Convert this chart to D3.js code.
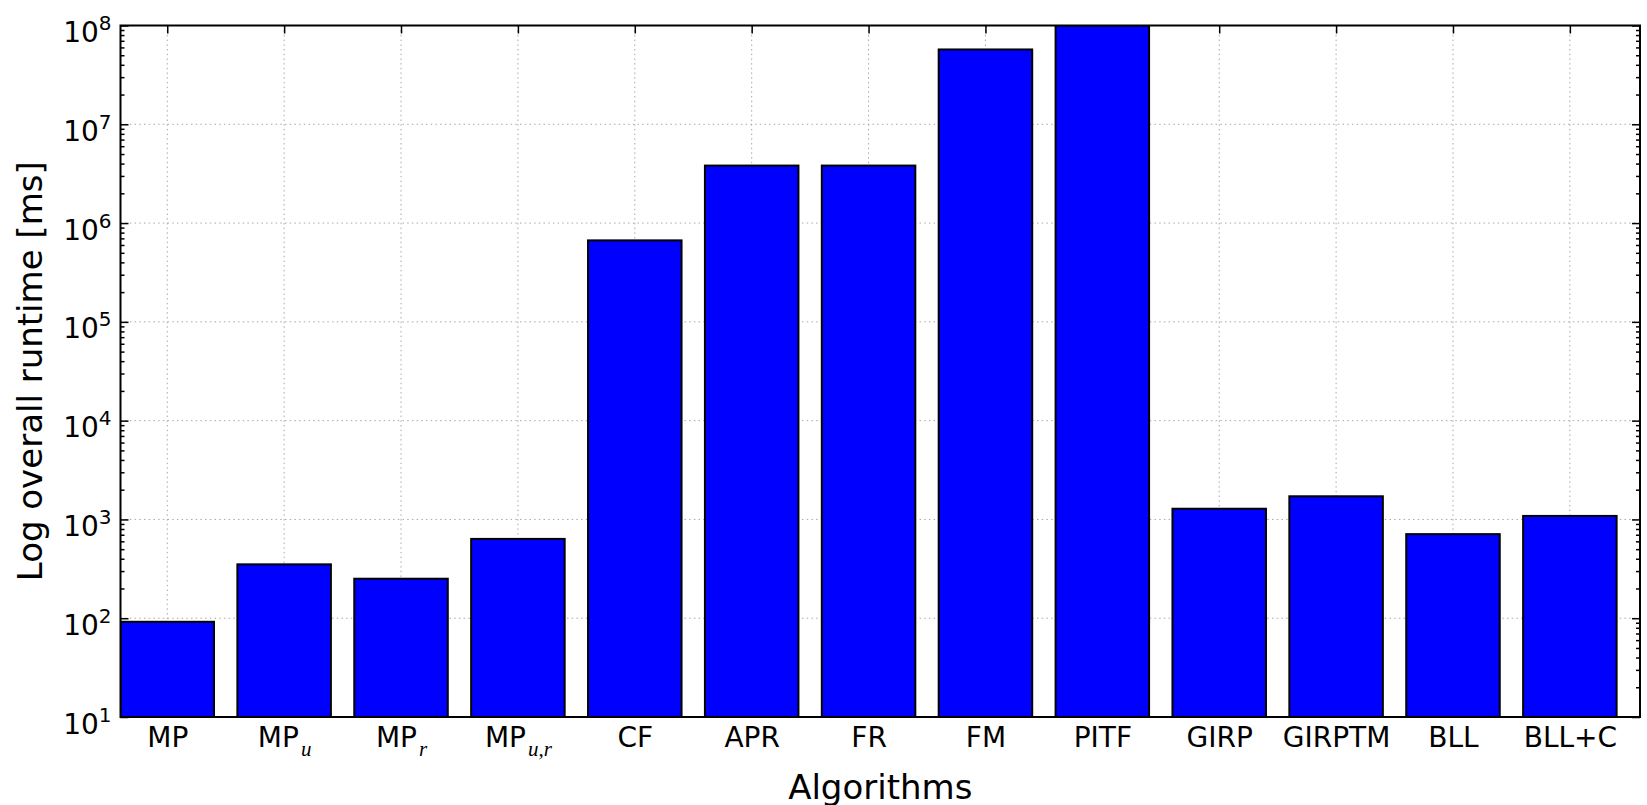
<!DOCTYPE html>
<html>
<head>
<meta charset="utf-8">
<script src="https://cdn.jsdelivr.net/npm/d3@7"></script>
<style>
  html, body { margin: 0; padding: 0; background: #ffffff; }
  svg { display: block; }
  text { font-family: "DejaVu Sans", sans-serif; fill: #000; }
</style>
</head>
<body>
<script>
// Algorithm names (main text and math-italic subscript)
const labelBase = ["MP", "MP", "MP", "MP", "CF", "APR", "FR", "FM", "PITF", "GIRP", "GIRPTM", "BLL", "BLL+C"];
const labelSub  = ["",   "u",  "r",  "u,r", "",  "",    "",   "",   "",     "",     "",       "",    ""];
// Overall runtime per algorithm in milliseconds
const runtimeMs = [92, 351, 251, 635, 668000, 3820000, 3820000, 57200000, 100000000, 1283, 1715, 710, 1085];
// Decade exponents shown on the y axis
const yExponents = [1, 2, 3, 4, 5, 6, 7, 8];

const W = 1647, H = 805;
const plot = { left: 120.5, right: 1640, top: 25.5, bottom: 717 };
const barWidth = 0.8;

const svg = d3.select("body").append("svg").attr("width", W).attr("height", H);

const x = d3.scaleLinear().domain([0, 13]).range([plot.left, plot.right]);
const y = d3.scaleLog().domain([1e1, 1e8]).range([plot.bottom, plot.top]);

const centers = labelBase.map((_, i) => i + barWidth / 2);
const majors = yExponents.map(e => Math.pow(10, e));
const minors = [];
yExponents.slice(0, -1).forEach(e => {
  for (let m = 2; m <= 9; m++) minors.push(m * Math.pow(10, e));
});

// clip for the plotting area
svg.append("defs").append("clipPath").attr("id", "plot-clip")
  .append("rect")
  .attr("x", plot.left).attr("y", plot.top)
  .attr("width", plot.right - plot.left).attr("height", plot.bottom - plot.top);

// dotted grid
const grid = svg.append("g").attr("stroke", "#a8a8a8").attr("stroke-width", 1)
  .attr("stroke-dasharray", "1.5,3.2");
grid.selectAll("line.gx").data(centers).join("line").attr("class", "gx")
  .attr("x1", d => x(d)).attr("x2", d => x(d))
  .attr("y1", plot.top).attr("y2", plot.bottom);
grid.selectAll("line.gy").data(majors.slice(1, -1)).join("line").attr("class", "gy")
  .attr("y1", d => y(d)).attr("y2", d => y(d))
  .attr("x1", plot.left).attr("x2", plot.right);

// tick marks (inward) on all four sides
function styleAxis(g) {
  g.select(".domain").remove();
  g.selectAll(".tick line").attr("stroke", "#000").attr("stroke-width", 1.5);
}
const leftMajor = svg.append("g").attr("transform", `translate(${plot.left},0)`)
  .call(d3.axisLeft(y).tickValues(majors).tickSize(-8).tickPadding(9).tickFormat(""));
styleAxis(leftMajor);
svg.append("g").attr("transform", `translate(${plot.left},0)`)
  .call(d3.axisLeft(y).tickValues(minors).tickSize(-4).tickFormat(""))
  .call(styleAxis);
svg.append("g").attr("transform", `translate(${plot.right},0)`)
  .call(d3.axisRight(y).tickValues(majors).tickSize(-8).tickFormat(""))
  .call(styleAxis);
svg.append("g").attr("transform", `translate(${plot.right},0)`)
  .call(d3.axisRight(y).tickValues(minors).tickSize(-4).tickFormat(""))
  .call(styleAxis);
const bottomAxis = svg.append("g").attr("transform", `translate(0,${plot.bottom})`)
  .call(d3.axisBottom(x).tickValues(centers).tickSize(-8).tickFormat(""));
styleAxis(bottomAxis);
svg.append("g").attr("transform", `translate(0,${plot.top})`)
  .call(d3.axisTop(x).tickValues(centers).tickSize(-8).tickFormat(""))
  .call(styleAxis);

// y tick labels: 10 with superscript exponent
leftMajor.selectAll(".tick").each(function (d) {
  const t = d3.select(this).append("text")
    .attr("x", -9).attr("y", 16)
    .attr("text-anchor", "end")
    .attr("font-size", 28);
  t.append("tspan").text("10");
  t.append("tspan").attr("font-size", 20).attr("dy", -12)
    .text(Math.round(Math.log10(d)));
});

// x tick labels with optional subscript
bottomAxis.selectAll(".tick").each(function (d, i) {
  const t = d3.select(this).append("text")
    .attr("x", 0).attr("y", 30)
    .attr("text-anchor", "middle")
    .attr("font-size", 28);
  t.append("tspan").text(labelBase[i]);
  if (labelSub[i]) {
    t.append("tspan")
      .attr("dx", 2).attr("dy", 9)
      .attr("font-family", "'Liberation Serif', 'DejaVu Serif', serif")
      .attr("font-style", "italic")
      .attr("font-size", 21)
      .text(labelSub[i]);
  }
});

// bars
svg.append("g").attr("clip-path", "url(#plot-clip)")
  .selectAll("rect").data(runtimeMs).join("rect")
  .attr("x", (d, i) => x(i))
  .attr("width", (d, i) => x(i + barWidth) - x(i))
  .attr("y", d => y(d))
  .attr("height", d => plot.bottom + 6 - y(d))
  .attr("fill", "#0000ff")
  .attr("stroke", "#000")
  .attr("stroke-width", 2);

// axes frame
svg.append("rect")
  .attr("x", plot.left).attr("y", plot.top)
  .attr("width", plot.right - plot.left).attr("height", plot.bottom - plot.top)
  .attr("fill", "none").attr("stroke", "#000").attr("stroke-width", 2);

// axis titles
svg.append("text")
  .attr("x", (plot.left + plot.right) / 2).attr("y", 799)
  .attr("text-anchor", "middle").attr("font-size", 34)
  .text("Algorithms");
svg.append("text")
  .attr("transform", `translate(42,${(plot.top + plot.bottom) / 2}) rotate(-90)`)
  .attr("text-anchor", "middle").attr("font-size", 34)
  .text("Log overall runtime [ms]");
</script>
</body>
</html>
